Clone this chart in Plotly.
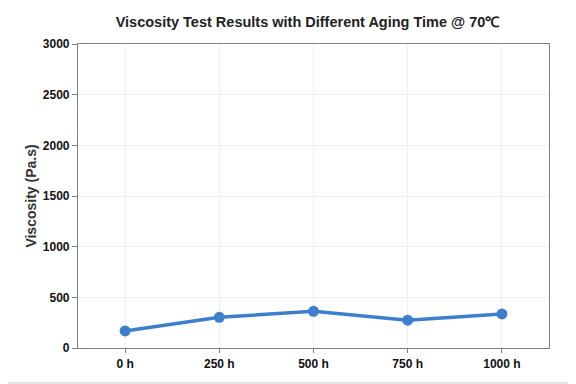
import plotly.graph_objects as go

categories = ["0 h", "250 h", "500 h", "750 h", "1000 h"]
viscosity = [168, 303, 362, 274, 336]
y_ticks = [0, 500, 1000, 1500, 2000, 2500, 3000]

fig = go.Figure()
fig.add_trace(go.Scatter(
    x=categories, y=viscosity, mode="lines+markers",
    line=dict(color="#3d7fcc", width=3.5),
    marker=dict(color="#3d7fcc", size=11),
    showlegend=False,
))

FONT = "Arial, Liberation Sans"
fig.update_layout(
    width=576, height=384,
    margin=dict(l=70, r=35, t=36, b=44),
    paper_bgcolor="white", plot_bgcolor="white",
    title=dict(text="<b>Viscosity Test Results with Different Aging Time @ 70℃</b>",
               x=0.52, xanchor="center", y=0.964, yanchor="middle",
               font=dict(family=FONT, size=14.5, color="#222222")),
    xaxis=dict(type="category", range=[-0.5, 4.5], showline=True, linecolor="#808080",
               linewidth=1.2, mirror=True, showgrid=True, gridcolor="#f0f0f0",
               ticks="outside", ticklen=4, tickcolor="#808080",
               tickfont=dict(family=FONT, size=12, color="#111111", weight="bold")),
    yaxis=dict(range=[0, 3000], tickvals=y_ticks, showline=True, linecolor="#808080",
               linewidth=1.2, mirror=True, showgrid=True, gridcolor="#f0f0f0",
               ticks="outside", ticklen=5, tickcolor="#808080", zeroline=False,
               tickfont=dict(family=FONT, size=12, color="#111111", weight="bold"),
               title=dict(text="<b>Viscosity (Pa.s)</b>", standoff=2,
                          font=dict(family=FONT, size=14, color="#333333"))),
)
fig.add_shape(type="rect", xref="paper", yref="paper", x0=-0.1635, y0=-0.1151, x1=1.0552, y1=1.1414,
              line=dict(color="#e2e2e2", width=2))
fig.write_html("out.html")
